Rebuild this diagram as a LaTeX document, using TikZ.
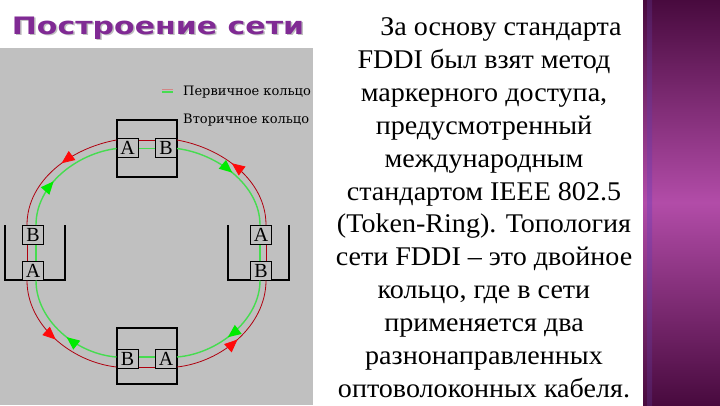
\documentclass[tikz,border=0pt]{standalone}
\usepackage{fontspec}
\setmainfont{Liberation Serif}
\newfontfamily\bodyfont{Liberation Serif}
\newfontfamily\titlefont{DejaVu Sans}
\newfontfamily\legendfont{DejaVu Serif}
\usetikzlibrary{decorations.markings,arrows.meta}
\definecolor{bg}{RGB}{192,192,192}
\definecolor{ttl}{RGB}{128,42,148}
\definecolor{redline}{RGB}{175,0,15}
\definecolor{redarrow}{RGB}{255,10,10}
\definecolor{greenline}{RGB}{70,220,80}
\definecolor{greenarrow}{RGB}{0,235,0}
\definecolor{bartop}{RGB}{72,10,62}
\definecolor{barmid}{RGB}{178,76,168}
\definecolor{striptop}{RGB}{80,25,90}
\definecolor{stripmid}{RGB}{150,70,175}
\tikzset{
  frame/.style={draw=black, line width=1.2pt},
  port/.style={draw=black, line width=1pt, fill=bg, minimum width=21pt, minimum height=19pt, inner sep=0pt, font=\bodyfont\fontsize{20}{20}\selectfont},
  redring/.style={draw=redline, line width=0.8pt, postaction={decorate},
    decoration={markings, mark=at position #1 with {\arrow{Triangle[length=13pt,width=11pt,color=redarrow]}}}},
  greenring/.style={draw=greenline, line width=1.4pt, postaction={decorate},
    decoration={markings, mark=at position #1 with {\arrow{Triangle[length=13pt,width=11pt,color=greenarrow]}}}},
  redthru/.style={draw=redline, line width=0.8pt},
  greenthru/.style={draw=greenline, line width=1.4pt},
  bodytext/.style={font=\bodyfont\fontsize{27}{27}\selectfont, anchor=base, inner sep=0pt, xscale=1.04, transform shape},
  legend/.style={font=\legendfont\fontsize{13}{13}\selectfont, anchor=west, inner sep=0pt}
}
\begin{document}
\begin{tikzpicture}[x=1pt,y=-1pt]
\useasboundingbox (0,0) rectangle (720,405);
\fill[white] (0,0) rectangle (720,405);
% purple bar
\shade[top color=bartop, bottom color=bartop, middle color=barmid] (643,0) rectangle (720,405);
\shade[top color=striptop, bottom color=striptop, middle color=stripmid] (647,0) rectangle (652,405);
% gray panel
\fill[bg] (0,48) rectangle (313,405);
% title
\node[font=\titlefont\bfseries\fontsize{24}{24}\selectfont, text=black!25, xscale=1.25, transform shape, inner sep=0pt] (titleshadow) at (159.5,29.5) {Построение сети};
\node[font=\titlefont\bfseries\fontsize{24}{24}\selectfont, text=ttl, xscale=1.25, transform shape, inner sep=0pt] (title) at (158,28) {Построение сети};
% legend
\begin{scope}
\clip (0,48) rectangle (313,405);
\coordinate (lp1) at (162,89); \coordinate (lp2) at (173,89);
\coordinate (lg1) at (162,92); \coordinate (lg2) at (173,92);
\draw[red!30!bg, line width=0.8pt] (lp1) -- (lp2);
\draw[greenline, line width=1.2pt] (lg1) -- (lg2);
\node[legend] (leg1) at (183,92) {Первичное кольцо};
\node[legend] (leg2) at (183,120) {Вторичное кольцо};
\end{scope}
% stations
\node[frame, minimum width=60pt, minimum height=57pt, inner sep=0pt] (tS) at (147,148.5) {};
\node[frame, minimum width=60pt, minimum height=56pt, inner sep=0pt] (bS) at (147,356) {};
\draw[frame] (5,225) -- (5,280) -- (65,280) -- (65,225);
\draw[frame] (228,225) -- (228,280) -- (289,280) -- (289,225);
\node[port] (tA) at (127.5,147.5) {A};
\node[port] (tB) at (166,147.5) {B};
\node[port] (lB) at (33,235) {B};
\node[port] (lA) at (33,270.5) {A};
\node[port] (rA) at (261,235) {A};
\node[port] (rB) at (261,270.5) {B};
\node[port] (bB) at (127.5,359) {B};
\node[port] (bA) at (166,359) {A};
% lines through stations
\draw[redthru] ([yshift=7.5pt]tA.east) -- ([yshift=7.5pt]tB.west);
\draw[greenthru] ([yshift=-1pt]tA.east) -- ([yshift=-1pt]tB.west);
\draw[redthru] ([xshift=-6pt]lB.south) -- ([xshift=-6pt]lA.north);
\draw[greenthru] ([xshift=3pt]lB.south) -- ([xshift=3pt]lA.north);
\draw[redthru] ([xshift=5pt]rA.south) -- ([xshift=5pt]rB.north);
\draw[greenthru] ([xshift=-1pt]rA.south) -- ([xshift=-1pt]rB.north);
\draw[redthru] ([yshift=-8pt]bB.east) -- ([yshift=-8pt]bA.west);
\draw[greenthru] ([yshift=2pt]bB.east) -- ([yshift=2pt]bA.west);
% secondary ring (red, counterclockwise)
\draw[redring=0.45] ([yshift=7.5pt]tA.west) .. controls +(-45,8) and +(0,-45) .. ([xshift=-6pt]lB.north);
\draw[redring=0.5] ([xshift=-6pt]lA.south) .. controls +(0,45) and +(-45,-5) .. ([yshift=-8pt]bB.west);
\draw[redring=0.5] ([yshift=-8pt]bA.east) .. controls +(45,-5) and +(0,45) .. ([xshift=5pt]rB.south);
\draw[redring=0.55] ([xshift=5pt]rA.north) .. controls +(0,-45) and +(45,8) .. ([yshift=7.5pt]tB.east);
% primary ring (green, clockwise)
\draw[greenring=0.4] ([xshift=3pt]lB.north) .. controls +(0,-40) and +(-40,5) .. ([yshift=-1pt]tA.west);
\draw[greenring=0.5] ([yshift=-1pt]tB.east) .. controls +(40,5) and +(0,-40) .. ([xshift=-1pt]rA.north);
\draw[greenring=0.55] ([xshift=-1pt]rB.south) .. controls +(0,40) and +(40,-3) .. ([yshift=2pt]bA.east);
\draw[greenring=0.45] ([yshift=2pt]bB.west) .. controls +(-40,-3) and +(0,40) .. ([xshift=3pt]lA.south);
% body text
\node[bodytext] (t1) at (501,35) {За основу стандарта};
\node[bodytext] (t2) at (484,68) {FDDI был взят метод};
\node[bodytext] (t3) at (484,101) {маркерного доступа,};
\node[bodytext] (t4) at (484,134) {предусмотренный};
\node[bodytext] (t5) at (484,167) {международным};
\node[bodytext] (t6) at (484,200) {стандартом IEEE 802.5};
\node[bodytext] (t7) at (484,232) {(Token-Ring). Топология};
\node[bodytext] (t8) at (484,265) {сети FDDI – это двойное};
\node[bodytext] (t9) at (484,298) {кольцо, где в сети};
\node[bodytext] (t10) at (484,331) {применяется два};
\node[bodytext] (t11) at (484,364) {разнонаправленных};
\node[bodytext] (t12) at (484,397) {оптоволоконных кабеля.};
\end{tikzpicture}
\end{document}
